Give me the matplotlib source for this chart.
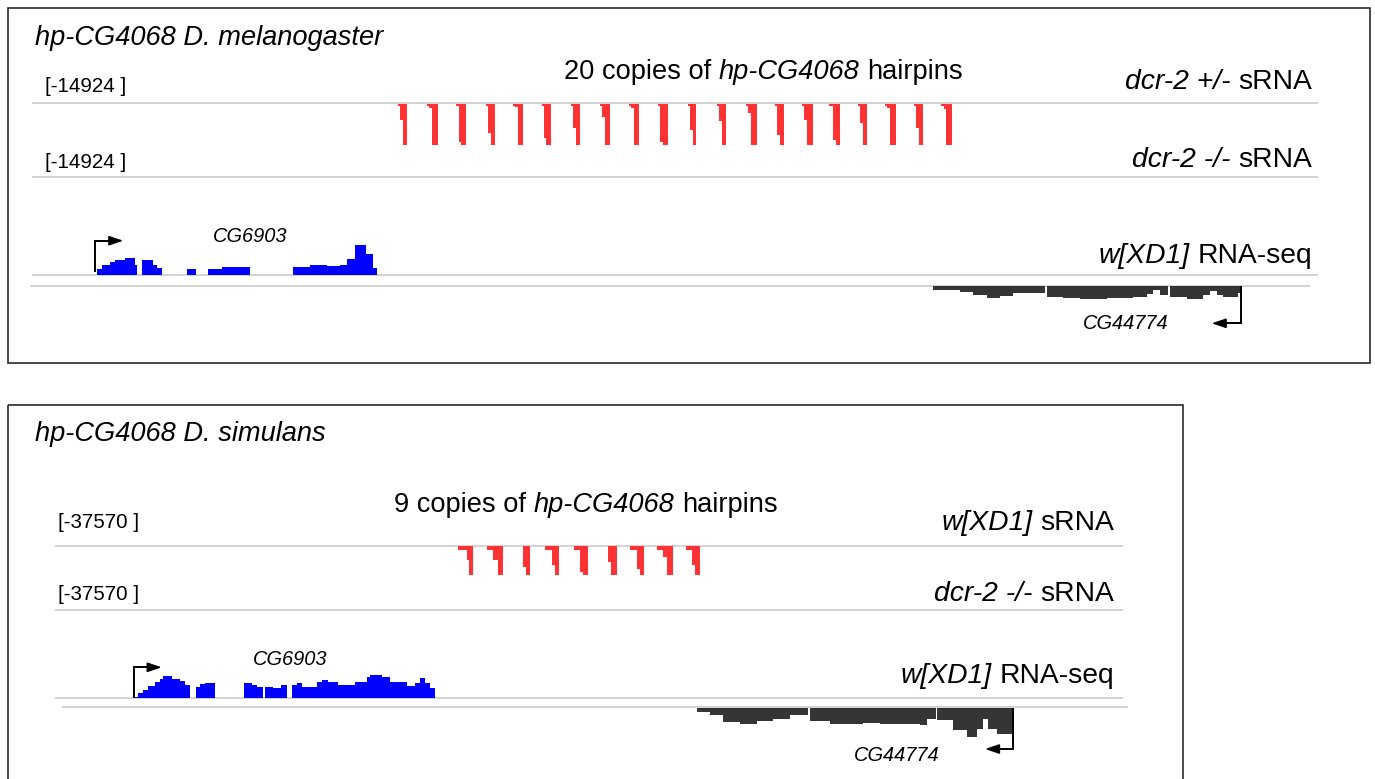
import matplotlib
matplotlib.use('Agg')
import matplotlib.pyplot as plt
from matplotlib.patches import Rectangle

plt.rcParams['font.family'] = ['Liberation Sans', 'DejaVu Sans']

# ---------------- DATA ----------------
# Panel 1: D. melanogaster, 20 hairpin copies (sRNA, dcr-2 +/-), relative depth
mel_hp_start = [398, 427.3, 456.2, 486, 513.2, 541.9, 571, 600, 629.1, 658.2,
                688.1, 717.2, 745.9, 775, 802.1, 828.9, 858, 885.2, 914.2, 941]
mel_hp_main_left = [403, 432, 461.5, 490.7, 518, 546.5, 576, 605, 634, 663,
                    693, 722, 751, 780, 807, 836, 862.7, 890, 919, 946.3]
mel_hp_end = [406.8, 437.8, 465.7, 495, 523.5, 550.7, 579.8, 610.4, 639.5, 668.5,
              696.5, 725.6, 756.6, 783.7, 812.8, 839.6, 866.7, 895.7, 923.3, 951.7]
mel_hp_cap = [0.05] * 20
mel_hp_mid = [0.39, 0.12, 0.92, 0.70, 0.09, 0.82, 0.58, 0.33, 0.11, 0.92,
              0.63, 0.41, 0.24, 0.76, 0.39, 0.88, 0.47, 0.10, 0.59, 0.13]
mel_srna_range = "[-14924 ]"

# Panel 1 RNA-seq (plus strand, CG6903)
mel_rna_edges = [96.7, 101.7, 110, 115, 125, 130, 135, 136.7, 141.7, 152.7, 157.3,
                 162.3, 187.3, 195.7, 207.7, 221.7, 231.7, 250, 293.3, 310, 326.7,
                 340, 346.7, 355, 366, 372.7, 377.3]
mel_rna_vals = [6, 9.3, 12.7, 15, 17, 17, 10, 0, 14.7, 10, 6.7, 0, 5.3, 0, 5.3,
                7.7, 8, 0, 8, 10, 8.7, 10, 16, 30, 21, 6.7]
# Panel 1 RNA-seq (minus strand, CG44774)
mel_minus_edges = [933.3, 960, 973.3, 986.7, 1000, 1013.3, 1030, 1045.5, 1047.5,
                   1063.3, 1080, 1106.7, 1133.3, 1146.7, 1153.3, 1160, 1168.5, 1170,
                   1186.7, 1203.3, 1210, 1216.7, 1223.3, 1238.3, 1240.7]
mel_minus_vals = [4, 5.7, 9, 12.3, 10, 7.3, 6.7, 0, 10.7, 12.3, 13.3, 12.3, 10.7,
                  8, 4, 9, 0, 11.3, 13.3, 9, 4.7, 9, 10.7, 7.3]

# Panel 2: D. simulans, 9 hairpin copies (sRNA, w[XD1])
sim_hp_start = [458.3, 486.7, 522.7, 545, 574, 607.7, 630, 656.7, 686]
sim_hp_mid_left = [466.7, 493.3, 522.7, 551.7, 580, 607.7, 636.7, 662.7, 692]
sim_hp_main_left = [469.3, 498.3, 526, 555, 583.3, 610.7, 640, 666.7, 695.3]
sim_hp_end = [473.3, 503.3, 530, 559.3, 587.7, 616.7, 644, 672.7, 700]
sim_hp_cap = [0.13] * 9
sim_hp_mid = [0.5, 0.5, 0.73, 0.67, 0.9, 0.56, 0.79, 0.38, 0.67]
sim_srna_range = "[-37570 ]"

sim_rna_edges = [135, 138.3, 143.3, 148.3, 155, 160, 163.3, 171.7, 180, 185,
                 190, 196, 200, 205, 215, 244, 251.7, 256.7, 262.7, 265.3,
                 273.3, 280.7, 287.3, 291.7, 296.7, 301.7, 316.7, 321.7, 328.3, 338.3,
                 355, 366.7, 370, 381.7, 390, 406.7, 415, 420, 425, 430, 435]
sim_rna_vals = [1, 4.3, 7.7, 12, 16, 18.7, 21.3, 18.7, 16.7, 12.7,
                0, 10.3, 13.3, 14.7, 0, 14.3, 12.7, 10.3, 0, 11,
                9.3, 12.7, 0, 12.7, 14.3, 11, 15.3, 17.7, 15.3, 12.7,
                15.3, 21, 22.7, 20.3, 16, 12, 14.3, 19.3, 14.3, 9.3]
sim_minus_edges = [696.7, 710, 723.3, 740, 756.7, 773.3, 790, 808, 810, 830,
                   846.7, 863.3, 880, 903.3, 920, 926.7, 936, 937.3, 953.3, 966.7,
                   976.7, 983.3, 988.3, 996.7, 1012.7]
sim_minus_vals = [4.3, 7.7, 14.3, 16, 13.3, 11, 7.7, 0, 13.3, 16, 16.7, 15.3, 16,
                  16.7, 17.7, 11, 0, 12.7, 22.7, 29.3, 21, 11, 21, 26]

# ---------------- STYLE ----------------
RED = '#ff3333'
BLUE = '#0000ff'
DARK = '#353535'
GRID = '#cccccc'
FRAME = '#2a2a2a'

W, H = 1375, 779
fig = plt.figure(figsize=(W / 100, H / 100), dpi=100)
ax = fig.add_axes([0, 0, 1, 1])
ax.set_xlim(0, W)
ax.set_ylim(H, 0)
ax.axis('off')
renderer = fig.canvas.get_renderer()

LABEL_FS = 20.3
TITLE_FS = 19.6
RANGE_FS = 14.8
GENE_FS = 14.4


def twidth(s, **kw):
    t = ax.text(0, 0, s, **kw)
    w = t.get_window_extent(renderer).width
    t.remove()
    return w


def mixed(x, y, parts, size, ha='left'):
    """parts: list of (string, italic) joined by single spaces."""
    sp = twidth('a a', fontsize=size) - twidth('aa', fontsize=size)
    widths = [twidth(s, fontsize=size, style='italic' if it else 'normal') for s, it in parts]
    total = sum(widths) + sp * (len(parts) - 1)
    if ha == 'right':
        x0 = x - total
    elif ha == 'center':
        x0 = x - total / 2
    else:
        x0 = x
    for (s, it), w in zip(parts, widths):
        ax.text(x0, y, s, fontsize=size, style='italic' if it else 'normal',
                ha='left', va='baseline', color='black')
        x0 += w + sp


def hline(y, x0, x1):
    ax.plot([x0, x1], [y, y], color=GRID, lw=1.2, solid_capstyle='butt', zorder=1)


def hairpins(starts, mid_lefts, main_lefts, ends, caps, mids, base, depth):
    for s, ml, mn, e, c, m in zip(starts, mid_lefts, main_lefts, ends, caps, mids):
        edges, vals = [], []
        if ml > s:
            edges += [s]
            vals += [c]
        edges += [ml, mn, e]
        vals += [m, 1.0]
        ax.stairs([base + depth * v for v in vals], edges, baseline=base,
                  fill=True, color=RED, lw=0, zorder=3)


def coverage(edges, vals, base, sign, color):
    ax.stairs([base + sign * v for v in vals], edges, baseline=base,
              fill=True, color=color, lw=0, zorder=3)


def tss_arrow(x, y0, y1, x_tip):
    d = 1 if x_tip > x else -1
    ax.plot([x, x, x_tip - d * 4], [y0, y1, y1], color='black', lw=1.4,
            solid_joinstyle='miter', solid_capstyle='butt', zorder=4)
    ax.annotate('', xy=(x_tip, y1), xytext=(x_tip - d * 8, y1),
                arrowprops=dict(arrowstyle='-|>,head_length=0.65,head_width=0.22',
                                color='black', lw=1.2, shrinkA=0, shrinkB=0,
                                mutation_scale=13), zorder=4)


# ---------------- PANEL 1 ----------------
ax.add_patch(Rectangle((8, 8), 1362, 355, fill=False, ec=FRAME, lw=1.2, zorder=5))
ax.text(35, 45, 'hp-CG4068 D. melanogaster', fontsize=TITLE_FS, style='italic',
        va='baseline')
mixed(763, 79, [('20 copies of', False), ('hp-CG4068', True), ('hairpins', False)],
      TITLE_FS, ha='center')
ax.text(45, 91.5, mel_srna_range, fontsize=RANGE_FS, va='baseline')
mixed(1312, 89, [('dcr-2 +/-', True), ('sRNA', False)], LABEL_FS, ha='right')
hline(103, 32, 1318)
hairpins(mel_hp_start, [m - 2.5 for m in mel_hp_main_left], mel_hp_main_left,
         mel_hp_end, mel_hp_cap, mel_hp_mid, 103.5, 41.5)

ax.text(45, 168, mel_srna_range, fontsize=RANGE_FS, va='baseline')
mixed(1312, 167, [('dcr-2 -/-', True), ('sRNA', False)], LABEL_FS, ha='right')
hline(177, 32, 1318)

ax.text(250, 241.5, 'CG6903', fontsize=GENE_FS, style='italic', ha='center',
        va='baseline')
mixed(1312, 263, [('w[XD1]', True), ('RNA-seq', False)], LABEL_FS, ha='right')
hline(274.8, 32, 1318)
coverage(mel_rna_edges, mel_rna_vals, 274.5, -1, BLUE)
tss_arrow(94.7, 272, 240.7, 123.3)

hline(285.8, 30, 1310)
coverage(mel_minus_edges, mel_minus_vals, 286, 1, DARK)
tss_arrow(1240.7, 286, 323.3, 1211.7)
ax.text(1125.5, 329, 'CG44774', fontsize=GENE_FS, style='italic', ha='center',
        va='baseline')

# ---------------- PANEL 2 ----------------
ax.add_patch(Rectangle((8, 405), 1175, 420, fill=False, ec=FRAME, lw=1.2, zorder=5))
ax.text(35, 441, 'hp-CG4068 D. simulans', fontsize=TITLE_FS, style='italic',
        va='baseline')
mixed(586, 512, [('9 copies of', False), ('hp-CG4068', True), ('hairpins', False)],
      TITLE_FS, ha='center')
ax.text(58, 528, sim_srna_range, fontsize=RANGE_FS, va='baseline')
mixed(1114, 530, [('w[XD1]', True), ('sRNA', False)], LABEL_FS, ha='right')
hline(545.5, 55, 1123)
hairpins(sim_hp_start, sim_hp_mid_left, sim_hp_main_left, sim_hp_end,
         sim_hp_cap, sim_hp_mid, 546, 28.5)

ax.text(58, 600, sim_srna_range, fontsize=RANGE_FS, va='baseline')
mixed(1114, 601, [('dcr-2 -/-', True), ('sRNA', False)], LABEL_FS, ha='right')
hline(610, 55, 1123)

ax.text(290, 665, 'CG6903', fontsize=GENE_FS, style='italic', ha='center',
        va='baseline')
mixed(1114, 683, [('w[XD1]', True), ('RNA-seq', False)], LABEL_FS, ha='right')
hline(698, 55, 1123)
coverage(sim_rna_edges, sim_rna_vals, 697.7, -1, BLUE)
tss_arrow(134, 698, 667.3, 161.7)

hline(707.3, 62, 1128)
coverage(sim_minus_edges, sim_minus_vals, 707.5, 1, DARK)
tss_arrow(1012.7, 707.5, 749, 985)
ax.text(897, 761, 'CG44774', fontsize=GENE_FS, style='italic', ha='center',
        va='baseline')

fig.savefig('out.png', dpi=100)
